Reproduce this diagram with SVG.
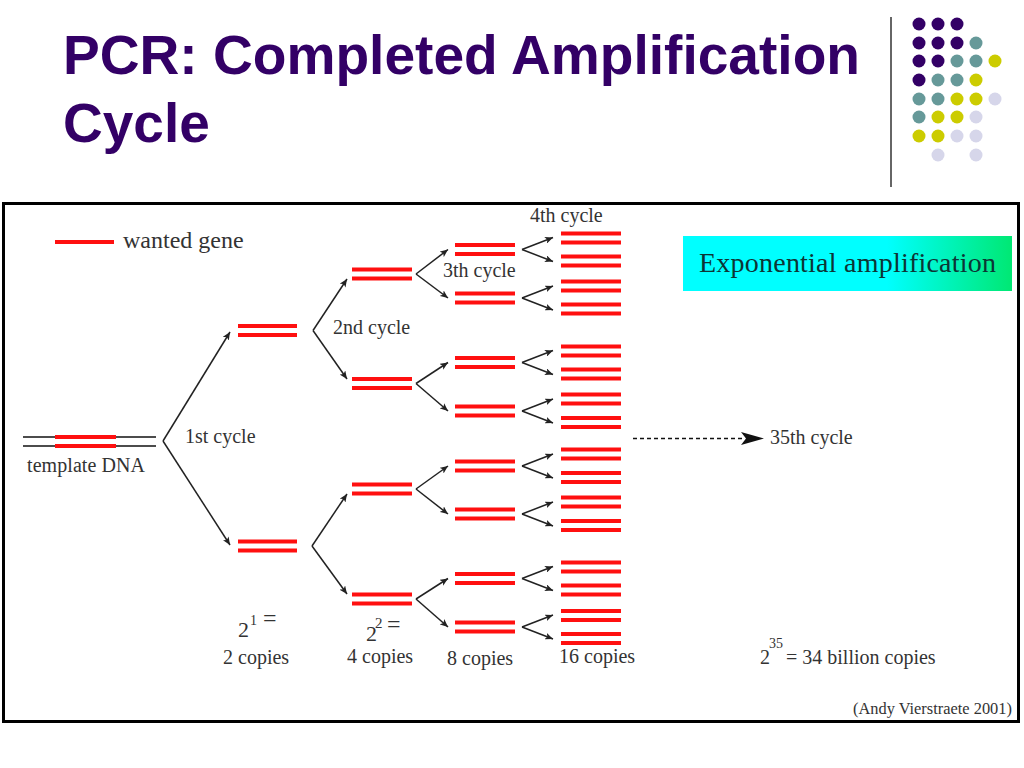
<svg xmlns="http://www.w3.org/2000/svg" xmlns:xlink="http://www.w3.org/1999/xlink" width="1024" height="768" viewBox="0 0 1024 768">
<style>
.title{font-family:"Liberation Sans",Arial,sans-serif;font-weight:bold;font-size:55px;fill:#330066}
.lbl{font-family:"Liberation Serif","Times New Roman",serif;font-size:20px;fill:#333}
.bar{stroke:#ff1010;stroke-width:4}
.dna{stroke:#111;stroke-width:1.5}
.conn{stroke:#222;stroke-width:1.5;fill:none;marker-end:url(#ah)}
.p{fill:#330066}.t{fill:#669999}.y{fill:#cccc00}.l{fill:#d6d6ea}
</style>
<defs>
<marker id="ah" markerUnits="userSpaceOnUse" markerWidth="9" markerHeight="7" refX="8" refY="3.5" orient="auto" viewBox="0 0 9 7">
<path d="M0,0 L8,3.5 L0,7 L2,3.5 z" fill="#222"/>
</marker>
<linearGradient id="grad" x1="0" y1="0" x2="1" y2="0">
<stop offset="0" stop-color="#00ffff"/>
<stop offset="0.62" stop-color="#00ffff"/>
<stop offset="1" stop-color="#00e873"/>
</linearGradient>
<g id="pL1"><line class="bar" x1="0" y1="-4.5" x2="59" y2="-4.5"/><line class="bar" x1="0" y1="4.5" x2="59" y2="4.5"/></g>
<g id="pL"><line class="bar" x1="0" y1="-4.5" x2="60" y2="-4.5"/><line class="bar" x1="0" y1="4.5" x2="60" y2="4.5"/></g>
</defs>
<rect width="1024" height="768" fill="#fff"/>

<g id="title">
<text class="title" x="63" y="74" textLength="797" lengthAdjust="spacingAndGlyphs">PCR: Completed Amplification</text>
<text class="title" x="63" y="142">Cycle</text>
</g>

<g id="decoration">
<line x1="891" y1="17" x2="891" y2="187" stroke="#333" stroke-width="1.5"/>
<circle class="p" cx="919" cy="24" r="6.5"/><circle class="p" cx="938" cy="24" r="6.5"/><circle class="p" cx="957" cy="24" r="6.5"/>
<circle class="p" cx="919" cy="43" r="6.5"/><circle class="p" cx="938" cy="43" r="6.5"/><circle class="p" cx="957" cy="43" r="6.5"/><circle class="t" cx="976" cy="43" r="6.5"/>
<circle class="p" cx="919" cy="61" r="6.5"/><circle class="p" cx="938" cy="61" r="6.5"/><circle class="t" cx="957" cy="61" r="6.5"/><circle class="t" cx="976" cy="61" r="6.5"/><circle class="y" cx="995" cy="61" r="6.5"/>
<circle class="p" cx="919" cy="80" r="6.5"/><circle class="t" cx="938" cy="80" r="6.5"/><circle class="t" cx="957" cy="80" r="6.5"/><circle class="y" cx="976" cy="80" r="6.5"/>
<circle class="t" cx="919" cy="99" r="6.5"/><circle class="t" cx="938" cy="99" r="6.5"/><circle class="y" cx="957" cy="99" r="6.5"/><circle class="y" cx="976" cy="99" r="6.5"/><circle class="l" cx="995" cy="99" r="6.5"/>
<circle class="t" cx="919" cy="117" r="6.5"/><circle class="y" cx="938" cy="117" r="6.5"/><circle class="y" cx="957" cy="117" r="6.5"/><circle class="l" cx="976" cy="117" r="6.5"/>
<circle class="y" cx="919" cy="136" r="6.5"/><circle class="y" cx="938" cy="136" r="6.5"/><circle class="l" cx="957" cy="136" r="6.5"/><circle class="l" cx="976" cy="136" r="6.5"/>
<circle class="l" cx="938" cy="155" r="6.5"/><circle class="l" cx="976" cy="155" r="6.5"/>
</g>

<g id="frame">
<rect x="3.5" y="203.5" width="1015" height="518" fill="#fff" stroke="#000" stroke-width="3"/>
</g>

<g id="legend">
<line class="bar" x1="55" y1="242" x2="114" y2="242"/>
<text class="lbl" x="123" y="248" style="font-size:24px">wanted gene</text>
</g>

<g id="template">
<line class="dna" x1="23" y1="437" x2="156" y2="437"/>
<line class="dna" x1="23" y1="446" x2="156" y2="446"/>
<line class="bar" x1="55" y1="437" x2="116" y2="437"/>
<line class="bar" x1="55" y1="446" x2="116" y2="446"/>
<text class="lbl" x="27" y="472" textLength="118">template DNA</text>
</g>

<g id="labels">
<text class="lbl" x="185" y="443">1st cycle</text>
<text class="lbl" x="333" y="334">2nd cycle</text>
<text class="lbl" x="443" y="277">3th cycle</text>
<text class="lbl" x="530" y="222">4th cycle</text>
<text class="lbl" x="770" y="444">35th cycle</text>
</g>

<g id="level1">
<g id="n1a"><use xlink:href="#pL1" x="238" y="330.5"/></g>
<g id="n1b"><use xlink:href="#pL1" x="238" y="546"/></g>
</g>

<g id="level2">
<g id="n2a"><use xlink:href="#pL" x="352" y="274"/></g>
<g id="n2b"><use xlink:href="#pL" x="352" y="383.5"/></g>
<g id="n2c"><use xlink:href="#pL" x="352" y="489"/></g>
<g id="n2d"><use xlink:href="#pL" x="352" y="599"/></g>
</g>

<g id="level3">
<g id="n3a"><use xlink:href="#pL" x="455" y="249.5"/></g>
<g id="n3b"><use xlink:href="#pL" x="455" y="298"/></g>
<g id="n3c"><use xlink:href="#pL" x="455" y="362.5"/></g>
<g id="n3d"><use xlink:href="#pL" x="455" y="411"/></g>
<g id="n3e"><use xlink:href="#pL" x="455" y="466"/></g>
<g id="n3f"><use xlink:href="#pL" x="455" y="514"/></g>
<g id="n3g"><use xlink:href="#pL" x="455" y="578.5"/></g>
<g id="n3h"><use xlink:href="#pL" x="455" y="627"/></g>
</g>

<g id="level4">
<g id="n4a"><use xlink:href="#pL" x="561" y="238"/><use xlink:href="#pL" x="561" y="261"/></g>
<g id="n4b"><use xlink:href="#pL" x="561" y="286"/><use xlink:href="#pL" x="561" y="309"/></g>
<g id="n4c"><use xlink:href="#pL" x="561" y="351"/><use xlink:href="#pL" x="561" y="374"/></g>
<g id="n4d"><use xlink:href="#pL" x="561" y="399"/><use xlink:href="#pL" x="561" y="422.5"/></g>
<g id="n4e"><use xlink:href="#pL" x="561" y="454"/><use xlink:href="#pL" x="561" y="477.5"/></g>
<g id="n4f"><use xlink:href="#pL" x="561" y="502"/><use xlink:href="#pL" x="561" y="525.5"/></g>
<g id="n4g"><use xlink:href="#pL" x="561" y="567"/><use xlink:href="#pL" x="561" y="590"/></g>
<g id="n4h"><use xlink:href="#pL" x="561" y="615.5"/><use xlink:href="#pL" x="561" y="638.5"/></g>
</g>

<g id="connectors">
<path class="conn" d="M163,441 L230,332"/>
<path class="conn" d="M163,441 L230,545"/>
<path class="conn" d="M313,330.5 L347,279"/>
<path class="conn" d="M313,330.5 L347,379"/>
<path class="conn" d="M312,546 L347,494"/>
<path class="conn" d="M312,546 L347,594"/>
<path class="conn" d="M416,274 L448,249.5"/>
<path class="conn" d="M416,274 L448,298"/>
<path class="conn" d="M416,383.5 L448,362.5"/>
<path class="conn" d="M416,383.5 L448,411"/>
<path class="conn" d="M416,489 L448,466"/>
<path class="conn" d="M416,489 L448,514"/>
<path class="conn" d="M416,599 L448,578.5"/>
<path class="conn" d="M416,599 L448,627"/>
<path class="conn" d="M522,249.5 L553,237.5"/>
<path class="conn" d="M522,249.5 L553,261.5"/>
<path class="conn" d="M522,298 L553,286"/>
<path class="conn" d="M522,298 L553,310"/>
<path class="conn" d="M522,362.5 L553,350.5"/>
<path class="conn" d="M522,362.5 L553,374.5"/>
<path class="conn" d="M522,411 L553,399"/>
<path class="conn" d="M522,411 L553,423"/>
<path class="conn" d="M522,466 L553,454"/>
<path class="conn" d="M522,466 L553,478"/>
<path class="conn" d="M522,514 L553,502"/>
<path class="conn" d="M522,514 L553,526"/>
<path class="conn" d="M522,578.5 L553,566.5"/>
<path class="conn" d="M522,578.5 L553,590.5"/>
<path class="conn" d="M522,627 L553,615"/>
<path class="conn" d="M522,627 L553,639"/>
<line x1="633" y1="438.5" x2="744" y2="438.5" stroke="#111" stroke-width="1.5" stroke-dasharray="4,3"/>
<path d="M741,432 L764,438.5 L741,445 L746,438.5 z" fill="#111"/>
</g>

<g id="expbox">
<rect x="683" y="236" width="329" height="55" fill="url(#grad)"/>
<text class="lbl" x="699" y="272" style="font-size:28px;fill:#0d3535" textLength="297">Exponential amplification</text>
</g>

<g id="counts">
<text class="lbl" x="238" y="637" style="font-size:22px">2</text>
<text class="lbl" x="250" y="625" style="font-size:14px">1</text>
<text class="lbl" x="263" y="626" style="font-size:24px">=</text>
<text class="lbl" x="223" y="664">2 copies</text>
<text class="lbl" x="366" y="641" style="font-size:22px">2</text>
<text class="lbl" x="375" y="628" style="font-size:15px">2</text>
<text class="lbl" x="387" y="632" style="font-size:24px">=</text>
<text class="lbl" x="347" y="663">4 copies</text>
<text class="lbl" x="447" y="665">8 copies</text>
<text class="lbl" x="559" y="663">16 copies</text>
<text class="lbl" x="760" y="664">2</text>
<text class="lbl" x="769" y="648" style="font-size:14px">35</text>
<text class="lbl" x="786" y="664">= 34 billion copies</text>
<text class="lbl" x="853" y="714" style="font-size:16.4px">(Andy Vierstraete 2001)</text>
</g>
</svg>
